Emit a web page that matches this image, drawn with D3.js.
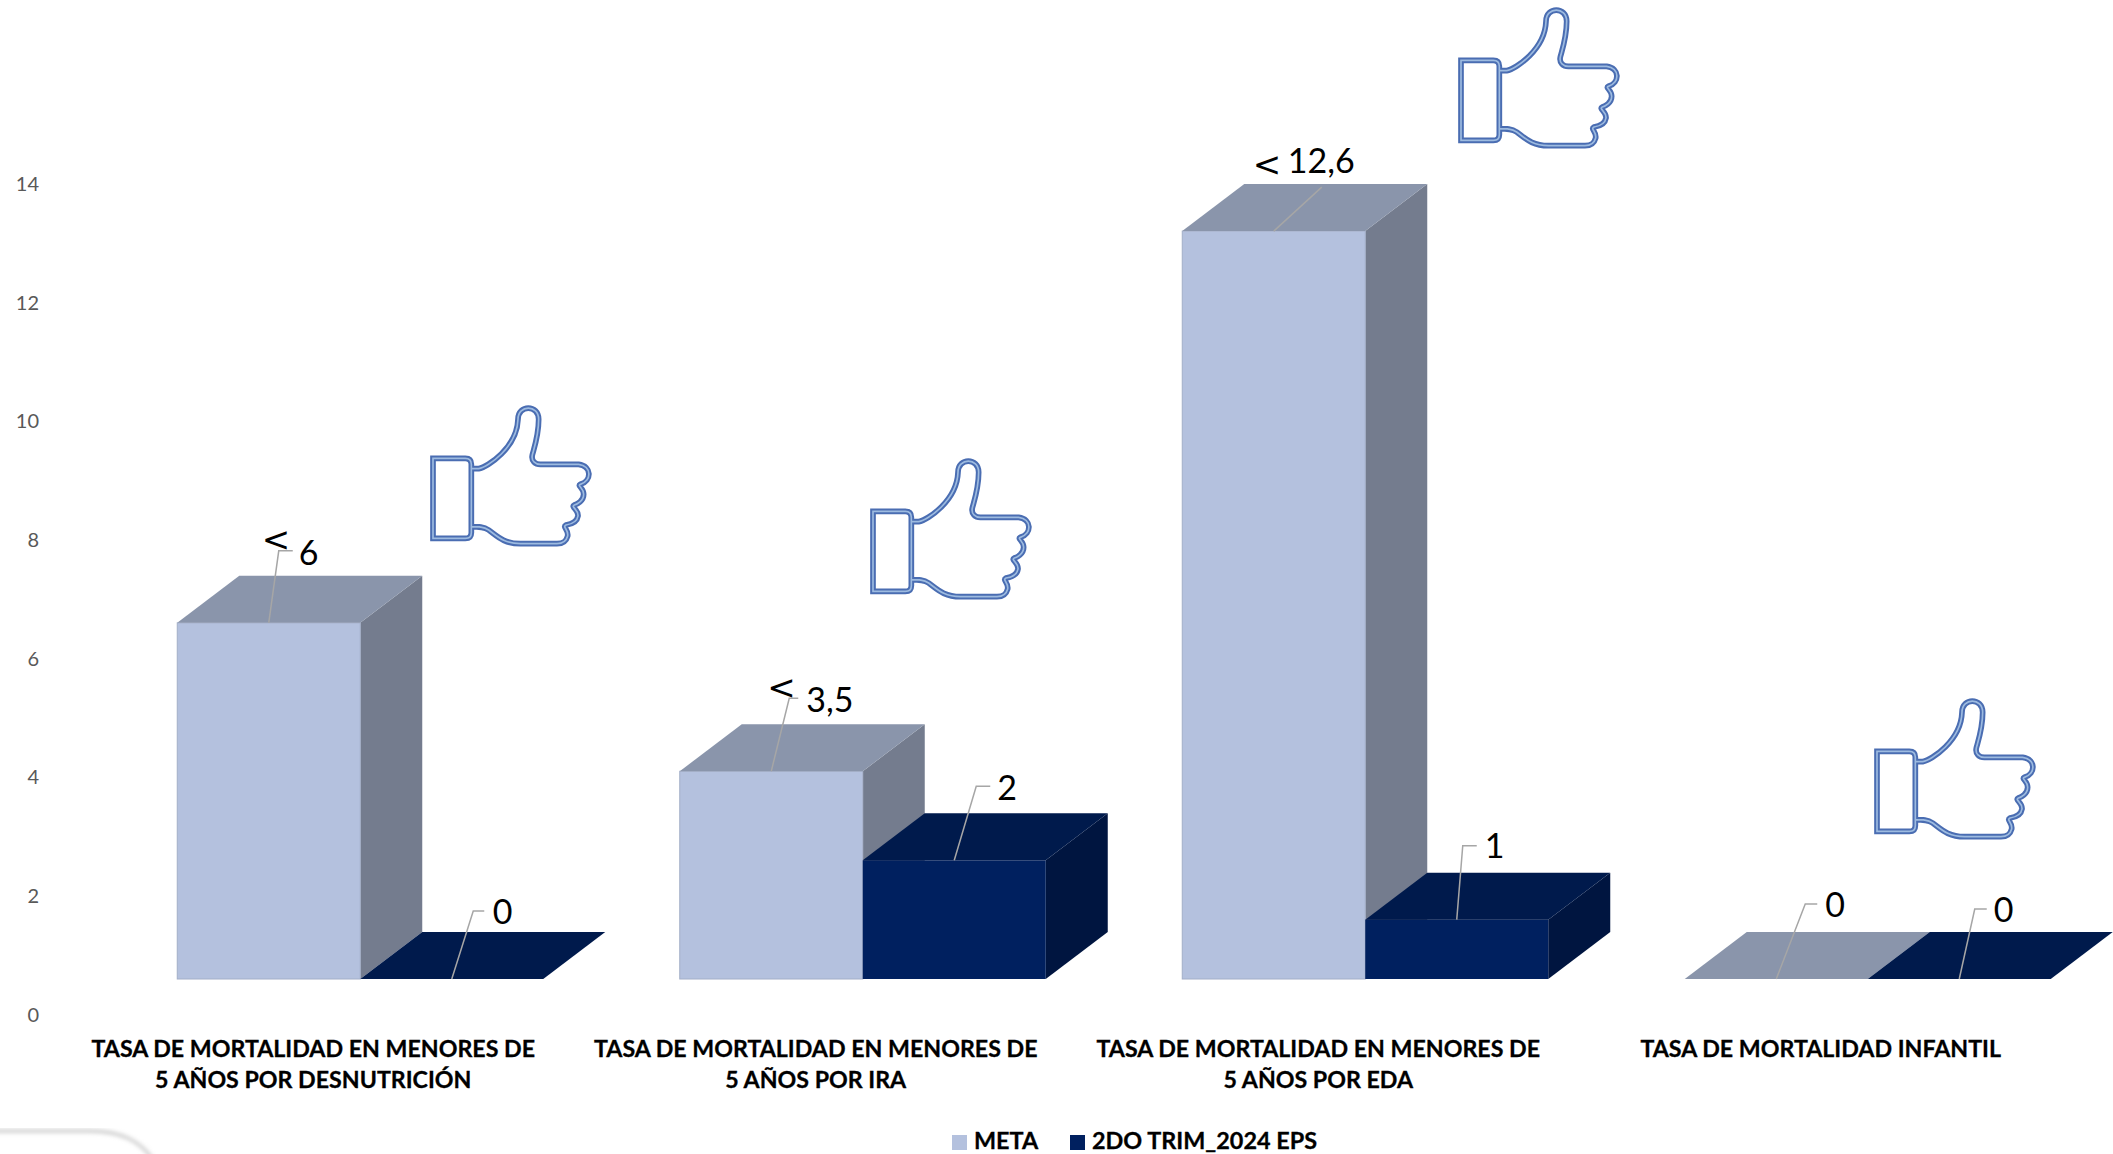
<!DOCTYPE html>
<html>
<head>
<meta charset="utf-8">
<script src="https://cdn.jsdelivr.net/npm/d3@7"></script>
<style>
  body { margin: 0; background: #fff; }
  text { font-family: Lato, "Open Sans", sans-serif; }
</style>
</head>
<body>
<script>
let categories = [
  ['TASA DE MORTALIDAD EN MENORES DE', '5 AÑOS POR DESNUTRICIÓN'],
  ['TASA DE MORTALIDAD EN MENORES DE', '5 AÑOS POR IRA'],
  ['TASA DE MORTALIDAD EN MENORES DE', '5 AÑOS POR EDA'],
  ['TASA DE MORTALIDAD INFANTIL']
];
let seriesNames = ['META', '2DO TRIM_2024 EPS'];
let metaValues = [6, 3.5, 12.6, 0];
let epsValues = [0, 2, 1, 0];
let metaLabels = ['6', '3,5', '12,6', '0'];
let metaPrefix = ['<', '<', '<', ''];
let epsLabels = ['0', '2', '1', '0'];
let yTicks = [0, 2, 4, 6, 8, 10, 12, 14];

// layout, relative to the middle of each bar's top edge
let metaLeaders = [[10, -72, 14], [18, -73, 9], [48, -44, 0], [29, -75, 12]];
let epsLeaders = [[21.5, -68, 11], [22, -74, 14], [6, -74, 14], [15.5, -70, 12]];
let metaTextPos = [[30, -58], [35, -59], [14, -58], [49, -62]];
let epsTextPos = [[41, -55], [43, -60], [28, -62], [34.5, -57]];
let lessPos = [[-7, -72], [-4, -72], [-21, -55], null];
let thumbPos = [[431, 407], [871, 460], [1459, 9], [1875, 700]];

let width = 2113;
let height = 1154;
let barWidth = 183;
let depthX = 62;
let depthY = 47;
let floorShift = 35; // the front of the 3d floor sits above the axis zero

let palette = [
  { front: '#b4c1de', top: '#8a95ab', side: '#747c8e', edge: '#a3aec8' },
  { front: '#00205f', top: '#001a4c', side: '#001540', edge: 'none' }
];

let svg = d3.select('body')
  .append('svg')
  .attr('width', width)
  .attr('height', height)
  .style('display', 'block');

let y = d3.scaleLinear().domain([0, 14]).range([1014, 183]);
let x = d3.scaleBand().domain(d3.range(categories.length)).range([62, 2072]);

// y axis
let axis = svg.append('g')
  .attr('transform', 'translate(39,1)')
  .call(d3.axisLeft(y).tickValues(yTicks).tickSize(0).tickPadding(0));
axis.select('.domain').remove();
axis.selectAll('text')
  .attr('fill', '#595959')
  .style('font-family', 'Lato')
  .style('font-size', '20px');

function barLeft(cat, s) {
  return x(cat) + x.bandwidth() / 2 + 47 + (s - 1) * barWidth;
}

function drawSeries(values, s) {
  let c = palette[s];
  let bars = values.map((v, i) => ({
    x0: barLeft(i, s),
    x1: barLeft(i, s) + barWidth,
    yTop: y(v) - floorShift,
    yBase: y(0) - floorShift
  }));
  let g = svg.append('g');

  g.selectAll('.side').data(bars).enter().append('path')
    .attr('d', d => `M${d.x1},${d.yTop}L${d.x1 + depthX},${d.yTop - depthY}L${d.x1 + depthX},${d.yBase - depthY}L${d.x1},${d.yBase}Z`)
    .attr('fill', c.side);

  g.selectAll('.front').data(bars).enter().append('rect')
    .attr('x', d => d.x0)
    .attr('y', d => d.yTop)
    .attr('width', barWidth)
    .attr('height', d => d.yBase - d.yTop)
    .attr('fill', c.front)
    .attr('stroke', d => d.yBase > d.yTop ? c.edge : 'none');

  g.selectAll('.top').data(bars).enter().append('path')
    .attr('d', d => `M${d.x0},${d.yTop}L${d.x1},${d.yTop}L${d.x1 + depthX},${d.yTop - depthY}L${d.x0 + depthX},${d.yTop - depthY}Z`)
    .attr('fill', c.top);
}

drawSeries(metaValues, 0);
drawSeries(epsValues, 1);

function drawLabels(values, s, labels, leaders, textPos) {
  let items = values.map((v, i) => ({
    ax: barLeft(i, s) + barWidth / 2,
    ay: y(v) - floorShift,
    leader: leaders[i],
    pos: textPos[i],
    label: labels[i],
    less: s === 0 ? lessPos[i] : null,
    prefix: s === 0 ? metaPrefix[i] : ''
  }));
  let g = svg.append('g');

  g.selectAll('path').data(items).enter().append('path')
    .attr('d', d => `M${d.ax},${d.ay}L${d.ax + d.leader[0]},${d.ay + d.leader[1]}h${d.leader[2]}`)
    .attr('fill', 'none')
    .attr('stroke', '#a6a6a6')
    .attr('stroke-width', 1.5);

  g.selectAll('.val').data(items).enter().append('text')
    .attr('class', 'val')
    .attr('x', d => d.ax + d.pos[0])
    .attr('y', d => d.ay + d.pos[1])
    .attr('font-size', 34)
    .attr('fill', '#000')
    .text(d => d.label);

  // the "<" was typed by hand in the original, it is bigger and sits apart
  g.selectAll('.less').data(items.filter(d => d.less)).enter().append('text')
    .attr('class', 'less')
    .attr('x', d => d.ax + d.less[0])
    .attr('y', d => d.ay + d.less[1])
    .attr('font-size', 34)
    .style('font-family', '"DejaVu Sans"')
    .attr('fill', '#000')
    .text(d => d.prefix);
}

drawLabels(metaValues, 0, metaLabels, metaLeaders, metaTextPos);
drawLabels(epsValues, 1, epsLabels, epsLeaders, epsTextPos);

// category labels
let catText = svg.append('g').selectAll('text').data(categories).enter().append('text')
  .attr('text-anchor', 'middle')
  .attr('font-size', 23.2)
  .attr('font-weight', 700)
  .attr('fill', '#000')
  .attr('stroke', '#000')
  .attr('stroke-width', 0.3);
catText.selectAll('tspan').data((d, i) => d.map(t => ({ t, i }))).enter().append('tspan')
  .attr('x', d => x(d.i) + x.bandwidth() / 2)
  .attr('y', (d, j) => 1056.5 + j * 31.5)
  .text(d => d.t);

// thumbs up pictures
let cuffPath = 'M98,232L195,232Q213,232 213,250L213,455Q213,472 195,472L98,472Z';
let handPath = 'M213,263L235,263C262,258 350,200 353,115C353,70 415,70 415,115C415,160 405,190 396,222C392,240 405,250 420,250L535,250C575,255 575,300 540,310C530,315 550,320 550,340C550,360 530,370 522,372C510,378 535,385 533,405C530,425 510,430 497,432C485,438 505,445 502,465C498,480 490,488 470,488L360,488C310,488 290,465 265,447C250,437 235,437 213,437';

let thumbs = svg.append('g').selectAll('g').data(thumbPos).enter().append('g')
  .attr('transform', d => `translate(${d[0] - 92 / 3},${d[1] - 78 / 3}) scale(${1 / 3})`);
[['#4a6db2', 17], ['#9dbbe0', 5]].forEach(st => {
  thumbs.append('path').attr('d', cuffPath + handPath)
    .attr('fill', 'none')
    .attr('stroke', st[0])
    .attr('stroke-width', st[1]);
});

// legend
let legendX = [952, 1070];
let legend = svg.append('g').selectAll('g').data(seriesNames).enter().append('g')
  .attr('transform', (d, i) => `translate(${legendX[i]},1135)`);
legend.append('rect')
  .attr('width', 15)
  .attr('height', 15)
  .attr('fill', (d, i) => palette[i].front);
legend.append('text')
  .attr('x', 22)
  .attr('y', 14)
  .attr('font-size', 23.4)
  .attr('font-weight', 700)
  .attr('fill', '#000')
  .attr('stroke', '#000')
  .attr('stroke-width', 0.3)
  .text(d => d);

// rounded card peeking in at the bottom left corner of the screenshot
let defs = svg.append('defs');
defs.append('filter').attr('id', 'soft')
  .append('feGaussianBlur').attr('stdDeviation', 2);
let cardPath = 'M-10,1131L90,1131C120,1131 140,1140 153,1160';
svg.append('path').attr('d', cardPath)
  .attr('fill', 'none')
  .attr('stroke', '#c4c4c4')
  .attr('stroke-width', 3)
  .attr('filter', 'url(#soft)');
</script>
</body>
</html>
